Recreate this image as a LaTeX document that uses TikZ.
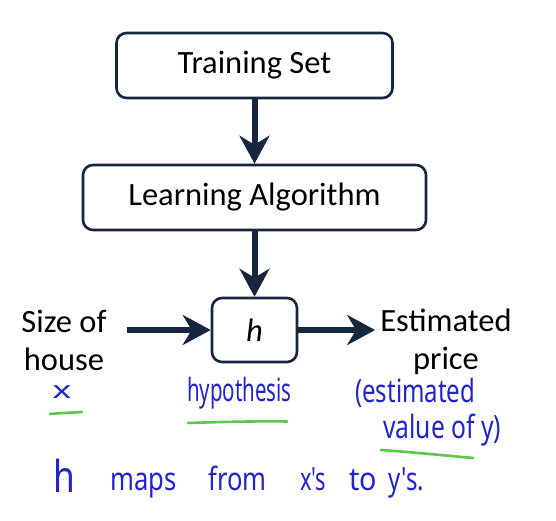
\documentclass[tikz,border=0pt]{standalone}
\usepackage{fontspec}
\usepackage{graphicx}
\setmainfont{Carlito}
\newfontfamily\handfont{Noto Sans}
\usetikzlibrary{arrows.meta}
\definecolor{navy}{HTML}{17263F}
\definecolor{ink}{HTML}{2323CC}
\definecolor{hilite}{HTML}{5CC84A}
\newcommand\hwtext[2][0.64]{\scalebox{#1}[1]{#2}}
\begin{document}
\begin{tikzpicture}[x=1pt,y=-1pt,
  box/.style={draw=navy, line width=2.6pt, rounded corners=10pt, fill=white,
    font=\fontsize{32.5}{38}\selectfont, inner sep=0pt},
  label/.style={font=\fontsize{32.5}{38}\selectfont, align=center, inner ysep=0pt},
  flow/.style={draw=navy, line width=6pt, -{Stealth[length=28pt,width=30pt,inset=9pt]}},
  hand/.style={text=ink, font=\handfont\fontsize{32}{36}\selectfont, inner sep=0pt},
  hiline/.style={draw=hilite, line width=2.6pt, line cap=round}
]
\useasboundingbox[fill=white] (0,0) rectangle (556,521);
% boxes
\node[box, minimum width=276pt, minimum height=65pt] (ts) at (254.5,65.5) {Training Set};
\node[box, minimum width=343pt, minimum height=65pt] (la) at (254.5,197.5) {Learning Algorithm};
\node[box, minimum width=85pt, minimum height=64pt] (h) at (254.5,330) {\itshape h};
% side labels
\node[label, inner xsep=20pt] (size) at (64,340.5) {Size of\\house};
\node[label, inner xsep=5pt] (est) at (446,342) {Estimated\\price};
% arrows
\draw[flow] (ts) -- (la);
\draw[flow] (la) -- (h);
\draw[flow] (size.east |- h.west) -- (h.west);
\draw[flow] (h.east) -- (h.east -| est.west);
% handwritten notes
\node[hand, anchor=base, font=\handfont\fontsize{24}{28}\selectfont] (nx) at (62,398) {\hwtext[1.5]{x}};
\node[hand, anchor=base west] (nhyp) at (187,401) {\hwtext{hypothesis}};
\node[hand, anchor=base west] (nest1) at (355,402) {\hwtext[0.75]{(estimated}};
\node[hand, anchor=base west] (nest2) at (383,438) {\hwtext[0.77]{value of y)}};
\node[hand, anchor=base west, font=\handfont\fontsize{44}{48}\selectfont] (w1) at (53,492) {\hwtext[0.8]{h}};
\node[hand, anchor=base west] (w2) at (110,490) {\hwtext[0.8]{maps}};
\node[hand, anchor=base west] (w3) at (208,490) {\hwtext[0.8]{from}};
\node[hand, anchor=base west] (w4) at (300,490) {\hwtext[0.68]{x's}};
\node[hand, anchor=base west] (w5) at (349,490) {\hwtext[0.9]{to}};
\node[hand, anchor=base west] (w6) at (388,490) {\hwtext[0.75]{y's.}};
% green underlines
\draw[hiline] (50,414) .. controls (62,413) and (72,412.5) .. (82,412);
\draw[hiline] (188,423) .. controls (220,422) and (255,421) .. (287,421.5);
\draw[hiline] (381,450) .. controls (410,452) and (440,455) .. (473,458);
\end{tikzpicture}
\end{document}
